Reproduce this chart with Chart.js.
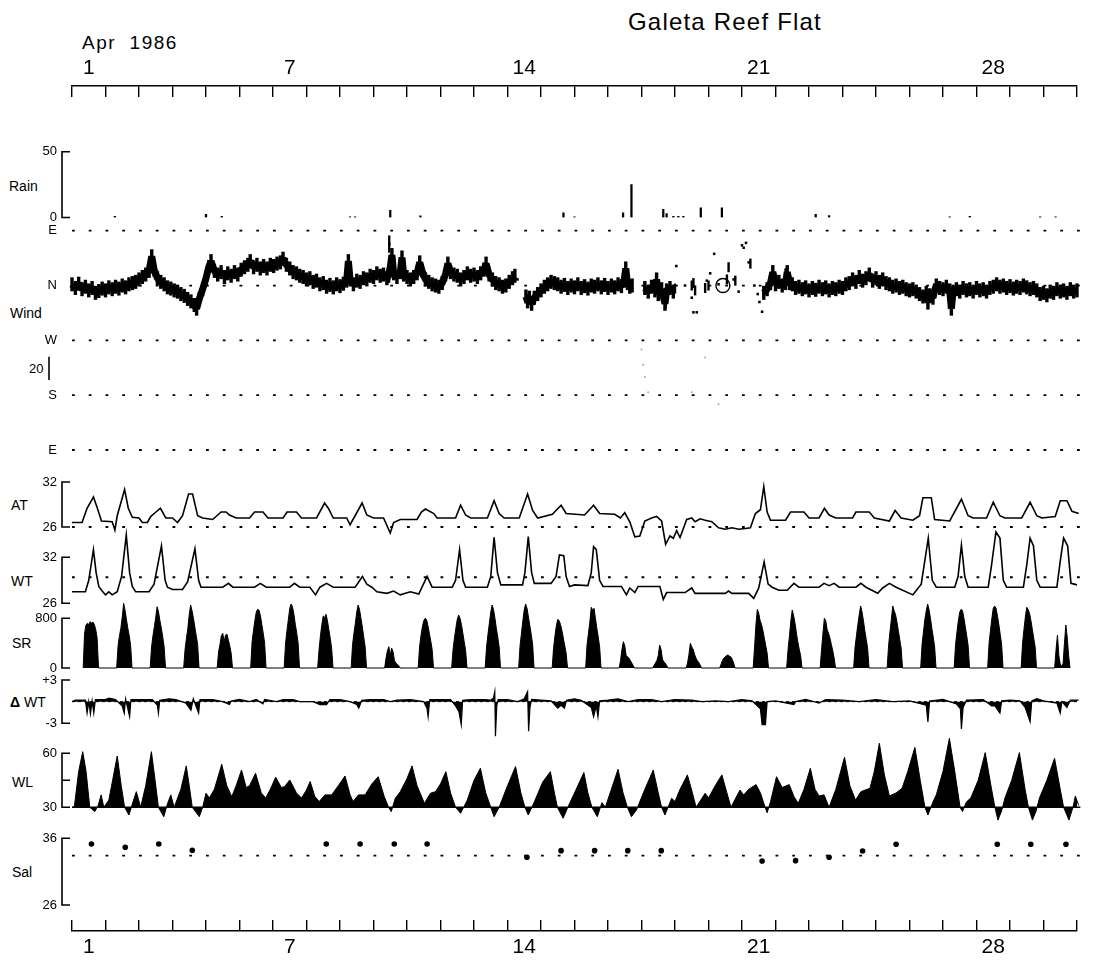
<!DOCTYPE html>
<html>
<head>
<meta charset="utf-8">
<title>Galeta Reef Flat</title>
<script src="https://cdn.jsdelivr.net/npm/chart.js@4.4.1/dist/chart.umd.min.js"></script>
<style>
  body { margin: 0; background: #fff; }
  #page { position: relative; width: 1106px; height: 960px; overflow: hidden;
          font-family: "Liberation Sans", Arial, sans-serif; color: #000; }
  canvas { position: absolute; left: 0; }
  .lbl { position: absolute; font-size: 14px; line-height: 1; transform: translateY(-50%); white-space: nowrap; }
</style>
</head>
<body>
<div id="page">
  <div class="lbl" style="left:628px; top:22px; font-size:24px; letter-spacing:1.2px">Galeta Reef Flat</div>
  <div class="lbl" style="left:82px; top:42px; font-size:19px; letter-spacing:1.5px">Apr&nbsp; 1986</div>
  <div class="lbl" style="left:9px; top:186px">Rain</div>
  <div class="lbl" style="left:10px; top:313px">Wind</div>
  <div class="lbl" style="left:29px; top:368px; font-size:13px">20</div>
  <div class="lbl" style="left:11px; top:505px">AT</div>
  <div class="lbl" style="left:11px; top:581px">WT</div>
  <div class="lbl" style="left:12px; top:643px">SR</div>
  <div class="lbl" style="left:10px; top:702px"><b>&Delta;</b> WT</div>
  <div class="lbl" style="left:12px; top:782px">WL</div>
  <div class="lbl" style="left:12px; top:872px">Sal</div>
</div>
<script>
const FONT = "'Liberation Sans', Arial, sans-serif";
const W = 1106, X0 = 72, X1 = 1077;   // Apr 1 00:00 .. May 1 00:00
const HALF_DAY = (X1 - X0) / 60;
const PAD = 24;
const BRACKET_X = 62;

// ---------- data ----------
const dayTicks = [1, 2, 3, 4, 5, 6, 7, 8, 9, 10, 11, 12, 13, 14, 15, 16, 17, 18, 19, 20,
                  21, 22, 23, 24, 25, 26, 27, 28, 29, 30, 31];
const dayLabels = [1, 7, 14, 21, 28];

// rain, mm  [day, amount]
const rain = [[2.28, 0.8], [5.0, 2.5], [5.47, 0.8], [9.3, 0.5], [9.45, 0.5], [10.5, 5.5],
  [11.4, 1.2], [15.67, 3.5], [16.0, 0.6], [17.45, 3.5], [17.7, 25], [18.65, 6.2], [18.75, 3],
  [18.95, 0.8], [19.1, 0.8], [19.25, 0.8], [19.77, 7.3], [20.4, 7.3], [23.2, 2.5], [23.6, 1.5],
  [27.2, 0.5], [27.8, 0.8], [29.9, 0.5], [30.36, 0.5]];

// wind direction, degrees from N (E = +90, W = -90, S = -180)
const windLevels = [90, 0, -90, -180, -270];
const windNames = ['E', 'N', 'W', 'S', 'E'];
const wind = [[1.0, 2], [1.1, -4], [1.2, 3], [1.3, -6], [1.4, -2], [1.5, -8], [1.6, -4], [1.7, -12],
  [1.8, -9], [1.9, -5], [2.0, -8], [2.1, -3], [2.2, -6], [2.3, -2], [2.4, -5], [2.5, 0], [2.6, -3],
  [2.7, 2], [2.8, 4], [2.9, 6], [3.0, 10], [3.1, 14], [3.2, 18], [3.3, 24], [3.38, 48], [3.45, 26],
  [3.55, 12], [3.65, 6], [3.75, 2], [3.85, -3], [3.95, -5], [4.05, -8], [4.15, -10], [4.25, -14],
  [4.35, -17], [4.45, -22], [4.55, -26], [4.65, -32], [4.72, -38], [4.8, -22], [4.9, -6], [5.0, 12],
  [5.08, 30], [5.15, 40], [5.25, 24], [5.35, 18], [5.45, 22], [5.55, 14], [5.65, 20], [5.75, 16],
  [5.85, 22], [5.95, 18], [6.05, 26], [6.15, 30], [6.25, 34], [6.32, 40], [6.42, 30], [6.52, 34],
  [6.62, 28], [6.72, 32], [6.82, 28], [6.92, 34], [7.02, 32], [7.12, 36], [7.22, 38], [7.3, 44],
  [7.4, 34], [7.5, 28], [7.6, 22], [7.7, 20], [7.8, 16], [7.9, 14], [8.0, 10], [8.1, 12], [8.2, 6],
  [8.3, 8], [8.4, 2], [8.5, 4], [8.6, -2], [8.7, 1], [8.8, -3], [8.9, 2], [9.0, -1], [9.1, 3],
  [9.2, 8], [9.25, 40], [9.3, 10], [9.4, 2], [9.5, 8], [9.6, 6], [9.7, 12], [9.8, 10], [9.9, 16],
  [10.0, 14], [10.1, 20], [10.2, 16], [10.3, 18], [10.4, 12], [10.45, 16], [10.5, 30], [10.55, 50],
  [10.6, 20], [10.7, 14], [10.8, 22], [10.85, 46], [10.9, 18], [11.0, 14], [11.1, 10], [11.2, 14],
  [11.3, 20], [11.38, 38], [11.45, 24], [11.55, 10], [11.65, 6], [11.75, 2], [11.85, 0], [11.95, -2],
  [12.05, 4], [12.15, 18], [12.22, 36], [12.3, 22], [12.4, 18], [12.5, 16], [12.6, 10], [12.7, 14],
  [12.8, 20], [12.9, 16], [13.0, 18], [13.1, 14], [13.2, 20], [13.3, 26], [13.36, 36], [13.45, 18],
  [13.55, 10], [13.65, 4], [13.75, 2], [13.85, -2], [13.95, 0], [14.05, 6], [14.15, 12], [14.22, 16],
  [14.25, null], [14.55, -18], [14.6, -26], [14.65, -20], [14.72, -30], [14.8, -20], [14.9, -14],
  [15.0, -8], [15.1, -2], [15.2, 2], [15.3, 6], [15.4, 4], [15.5, 2], [15.6, -2], [15.7, 1],
  [15.8, -4], [15.9, 0], [16.0, -3], [16.1, 2], [16.2, -4], [16.3, -1], [16.4, -5], [16.5, 0],
  [16.6, -2], [16.7, 2], [16.8, -3], [16.9, 1], [17.0, -4], [17.1, 0], [17.2, -3], [17.3, 2],
  [17.4, -1], [17.48, 8], [17.53, 28], [17.58, 4], [17.65, -2], [17.72, 0], [17.78, null],
  [18.1, -4], [18.2, -10], [18.3, -2], [18.4, -8], [18.45, 10], [18.5, -14], [18.6, -6],
  [18.7, -30], [18.75, -8], [18.85, -4], [18.95, -10], [19.0, null],
  [21.65, -12], [21.75, -6], [21.85, 4], [21.92, 22], [22.0, 2], [22.1, 6], [22.2, 0], [22.3, 4],
  [22.35, 22], [22.42, 4], [22.5, 2], [22.6, -4], [22.7, -2], [22.8, -6], [22.9, -3], [23.0, -8],
  [23.1, -4], [23.2, -7], [23.3, -2], [23.4, -6], [23.5, -3], [23.6, -8], [23.7, -4], [23.8, -6],
  [23.9, -2], [24.0, -4], [24.1, 2], [24.2, 4], [24.3, 10], [24.4, 6], [24.5, 14], [24.6, 8],
  [24.7, 12], [24.8, 18], [24.9, 8], [25.0, 12], [25.1, 6], [25.2, 10], [25.3, 4], [25.4, 2],
  [25.5, -2], [25.6, 0], [25.7, -4], [25.8, -2], [25.9, -6], [26.0, -8], [26.1, -6], [26.2, -10],
  [26.3, -14], [26.4, -18], [26.5, -12], [26.55, -28], [26.6, -16], [26.7, -20], [26.75, -8],
  [26.8, 0], [26.9, -4], [27.0, -6], [27.1, -2], [27.2, -8], [27.25, -38], [27.3, -10], [27.4, -6],
  [27.5, -10], [27.6, -4], [27.7, -8], [27.8, -6], [27.9, -10], [28.0, -4], [28.1, -8], [28.2, -6],
  [28.3, -10], [28.4, -4], [28.5, -2], [28.6, 2], [28.7, -2], [28.8, 0], [28.9, -4], [29.0, -1],
  [29.1, -5], [29.2, -2], [29.3, -4], [29.4, 0], [29.5, -3], [29.6, -6], [29.7, -4], [29.8, -8],
  [29.9, -14], [30.0, -12], [30.1, -16], [30.2, -10], [30.3, -12], [30.4, -6], [30.5, -10],
  [30.6, -8], [30.7, -12], [30.8, -6], [30.9, -10], [31.0, -8], [31.07, -6]];
const windDots = [[19.04, 32], [19.3, 0], [19.5, -20], [19.55, -44], [19.65, -44], [19.95, 8],
  [20.05, 20], [20.17, 52], [20.3, 2], [20.75, 10], [20.9, -10], [21.0, 66], [21.05, 62],
  [21.12, 70], [21.2, 38], [21.37, 0], [21.47, -14], [21.52, -27], [21.6, -43], [14.3, 10]];
const windSticks = [[10.47, 62], [10.47, 74], [18.1, -4], [18.3, 0], [18.72, -30], [19.0, -5],
  [19.5, 0], [19.55, 4], [19.6, -8], [19.9, -4], [20.0, 0], [20.55, 10], [20.6, 30], [20.8, 8],
  [21.25, 36], [22.3, 20]];
const windFaint = [[18.0, -105], [18.05, -130], [18.1, -150], [18.2, -175], [19.5, -175],
  [20.3, -195], [19.9, -118]];
const windCalm = [[20.43, 0]];

// air temperature, deg C
const airTemp = [[1.0, 26.6], [1.3, 26.6], [1.45, 28.5], [1.64, 30.0], [1.75, 28.6], [1.88, 26.8],
  [2.2, 26.7], [2.28, 25.6], [2.35, 27.5], [2.57, 31.0], [2.68, 28.5], [2.8, 27.3], [3.0, 27.2],
  [3.1, 26.6], [3.25, 26.6], [3.35, 27.4], [3.64, 28.5], [3.8, 27.2], [4.0, 27.2], [4.15, 26.6],
  [4.3, 27.5], [4.48, 30.4], [4.6, 30.4], [4.75, 27.5], [4.9, 27.2], [5.2, 27.0], [5.3, 27.4],
  [5.45, 28.0], [5.6, 28.0], [5.7, 27.6], [5.9, 27.2], [6.3, 27.2], [6.45, 28.0], [6.7, 28.0],
  [6.85, 27.2], [7.3, 27.2], [7.42, 28.0], [7.7, 28.0], [7.85, 27.2], [8.3, 27.2], [8.54, 29.2],
  [8.65, 28.5], [8.8, 27.2], [9.2, 27.2], [9.3, 26.3], [9.45, 27.5], [9.66, 29.2], [9.8, 27.6],
  [10.0, 27.2], [10.3, 27.2], [10.5, 25.2], [10.6, 26.6], [10.8, 27.0], [11.3, 27.0], [11.43, 28.0],
  [11.55, 28.4], [11.8, 27.8], [11.9, 27.2], [12.45, 27.2], [12.6, 28.9], [12.75, 27.6], [12.9, 27.2],
  [13.4, 27.2], [13.6, 29.5], [13.75, 27.8], [13.9, 27.2], [14.35, 27.2], [14.6, 30.4], [14.75, 28.2],
  [14.9, 27.2], [15.34, 27.7], [15.6, 28.9], [15.75, 27.8], [16.3, 27.6], [16.57, 28.9], [16.75, 27.8],
  [17.2, 27.7], [17.37, 27.2], [17.5, 27.9], [17.65, 26.7], [17.8, 24.7], [17.95, 24.8], [18.1, 26.8],
  [18.3, 27.2], [18.45, 27.4], [18.6, 26.8], [18.72, 23.7], [18.85, 24.8], [18.95, 24.5], [19.05, 25.5],
  [19.15, 24.6], [19.35, 27.0], [19.5, 27.2], [19.6, 26.7], [19.75, 27.1], [19.9, 26.9], [20.1, 26.7],
  [20.3, 25.9], [20.5, 25.7], [20.7, 25.9], [20.9, 25.7], [21.1, 25.8], [21.25, 25.9], [21.4, 27.8],
  [21.55, 28.3], [21.65, 31.4], [21.75, 28.0], [21.85, 26.9], [22.3, 26.9], [22.45, 28.0], [22.85, 28.0],
  [23.0, 27.2], [23.3, 27.2], [23.46, 28.5], [23.6, 27.6], [23.8, 27.2], [24.3, 27.2], [24.4, 28.0],
  [24.8, 28.0], [24.95, 27.2], [25.4, 26.8], [25.57, 28.2], [25.75, 27.2], [26.1, 26.9], [26.3, 27.5],
  [26.4, 29.9], [26.65, 29.9], [26.75, 27.0], [27.2, 26.8], [27.55, 29.7], [27.75, 27.5], [27.9, 27.2],
  [28.3, 27.2], [28.5, 29.3], [28.7, 27.5], [28.85, 27.2], [29.35, 27.2], [29.6, 29.3], [29.8, 27.5],
  [29.95, 27.2], [30.35, 27.4], [30.5, 29.5], [30.7, 29.5], [30.85, 28.1], [31.05, 27.8]];

// water temperature, deg C
const waterTemp = [[1.0, 27.5], [1.4, 27.5], [1.5, 29.0], [1.64, 33.0], [1.72, 30.0], [1.8, 28.2],
  [1.9, 27.6], [2.0, 27.1], [2.1, 27.5], [2.2, 27.1], [2.35, 27.5], [2.48, 29.5], [2.62, 34.9],
  [2.72, 30.0], [2.8, 28.2], [2.9, 27.5], [3.3, 27.5], [3.45, 28.5], [3.67, 33.5], [3.78, 29.0],
  [3.85, 28.1], [4.0, 27.8], [4.3, 27.8], [4.45, 28.8], [4.67, 33.1], [4.78, 29.0], [4.85, 28.1],
  [5.5, 28.1], [5.67, 28.6], [5.8, 28.1], [6.45, 28.1], [6.62, 28.6], [6.8, 28.1], [7.5, 28.1],
  [7.64, 28.6], [7.8, 28.1], [8.1, 28.1], [8.27, 27.1], [8.4, 28.1], [8.6, 28.6], [8.8, 28.1],
  [9.45, 28.1], [9.67, 29.5], [9.8, 28.5], [9.95, 28.1], [10.1, 27.5], [10.4, 27.3], [10.6, 27.6],
  [10.8, 27.1], [11.1, 27.5], [11.35, 27.2], [11.6, 29.5], [11.75, 28.1], [12.35, 28.1], [12.45, 29.0],
  [12.57, 33.0], [12.67, 29.0], [12.75, 28.1], [13.4, 28.1], [13.5, 29.5], [13.6, 34.6], [13.7, 30.0],
  [13.8, 28.4], [14.45, 28.4], [14.52, 30.0], [14.62, 34.7], [14.72, 30.0], [14.8, 28.6], [15.3, 28.6],
  [15.45, 29.5], [15.55, 32.3], [15.68, 32.2], [15.75, 29.5], [15.85, 28.2], [16.0, 28.4], [16.4, 28.3],
  [16.5, 30.0], [16.57, 33.4], [16.65, 33.0], [16.75, 29.0], [16.85, 28.2], [17.4, 28.2], [17.55, 27.1],
  [17.65, 28.0], [17.8, 27.4], [17.9, 28.2], [18.55, 28.2], [18.65, 26.5], [18.75, 27.4], [19.3, 27.4],
  [19.5, 28.0], [19.6, 27.3], [20.5, 27.3], [20.6, 27.6], [20.7, 27.3], [21.2, 27.3], [21.35, 26.65],
  [21.5, 28.0], [21.66, 31.4], [21.78, 28.5], [21.9, 28.1], [22.1, 27.7], [22.35, 27.7], [22.55, 28.6],
  [22.7, 28.1], [23.3, 28.1], [23.45, 28.6], [23.6, 28.3], [23.75, 28.6], [23.9, 28.1], [24.4, 28.1],
  [24.55, 28.6], [24.7, 28.1], [25.05, 27.3], [25.2, 28.0], [25.4, 28.6], [25.6, 28.1], [26.1, 27.1],
  [26.35, 28.5], [26.56, 34.5], [26.68, 29.0], [26.8, 28.1], [27.35, 28.1], [27.45, 29.5], [27.55, 33.6],
  [27.65, 29.5], [27.75, 28.1], [28.35, 28.1], [28.45, 31.0], [28.58, 35.3], [28.7, 34.5], [28.8, 29.0],
  [28.9, 28.1], [29.4, 28.1], [29.5, 31.0], [29.6, 34.5], [29.7, 33.5], [29.8, 29.0], [29.9, 28.1],
  [30.4, 28.1], [30.5, 31.5], [30.6, 34.5], [30.72, 33.5], [30.82, 28.6], [31.0, 28.4], [31.05, 28.0]];

// solar radiation, W m-2, one row per day at these hours
const srHours = [8, 9, 10, 11, 12, 13, 14, 15, 16, 17, 18, 19];
const srByDay = [
  [0, 560, 690, 720, 700, 746, 720, 740, 700, 620, 480, 0],
  [0, 360, 520, 640, 820, 1041, 930, 780, 640, 520, 360, 0],
  [0, 340, 520, 660, 820, 987, 900, 760, 640, 500, 340, 0],
  [0, 300, 480, 640, 860, 1014, 920, 800, 660, 520, 380, 0],
  [0, 260, 380, 520, 558, 420, 530, 545, 450, 360, 240, 0],
  [0, 420, 600, 760, 900, 944, 930, 840, 700, 560, 400, 0],
  [0, 400, 600, 780, 960, 1030, 980, 860, 700, 560, 400, 0],
  [0, 300, 520, 700, 840, 800, 864, 760, 620, 480, 320, 0],
  [0, 380, 560, 720, 900, 1014, 940, 800, 660, 500, 340, 0],
  [0, 160, 280, 343, 200, 320, 260, 120, 80, 60, 40, 0],
  [0, 340, 520, 660, 760, 800, 780, 680, 560, 440, 300, 0],
  [0, 300, 480, 640, 780, 853, 800, 700, 560, 420, 280, 0],
  [0, 340, 540, 720, 900, 1014, 940, 800, 640, 500, 340, 0],
  [0, 360, 560, 760, 940, 1030, 960, 820, 680, 540, 380, 0],
  [0, 320, 520, 680, 784, 760, 700, 600, 480, 360, 240, 0],
  [0, 380, 560, 740, 977, 930, 960, 800, 640, 500, 340, 0],
  [0, 120, 300, 424, 360, 200, 180, 160, 120, 80, 40, 0],
  [0, 40, 80, 120, 200, 370, 300, 140, 100, 80, 40, 0],
  [0, 80, 220, 397, 340, 300, 220, 160, 120, 90, 50, 0],
  [0, 60, 120, 160, 180, 200, 209, 190, 180, 140, 80, 0],
  [0, 340, 700, 944, 880, 760, 700, 600, 480, 360, 240, 0],
  [0, 300, 520, 760, 934, 840, 720, 560, 420, 300, 200, 0],
  [0, 300, 560, 800, 760, 620, 560, 480, 380, 280, 160, 0],
  [0, 340, 520, 700, 860, 998, 900, 760, 600, 460, 320, 0],
  [0, 360, 580, 780, 998, 920, 860, 740, 600, 460, 320, 0],
  [0, 380, 580, 780, 920, 1030, 940, 800, 640, 500, 340, 0],
  [0, 380, 580, 760, 900, 944, 920, 800, 660, 520, 360, 0],
  [0, 400, 600, 800, 960, 998, 960, 840, 700, 540, 380, 0],
  [0, 400, 620, 820, 977, 940, 880, 760, 620, 480, 340, 0],
  [0, 300, 531, 200, 60, 40, 60, 400, 692, 500, 200, 0]];

// change of water temperature, deg C per hour
const dWT = [[1.0, 0], [1.1, 0.2], [1.4, 0.2], [1.45, -1.6], [1.5, 0], [1.55, -1.7], [1.6, 0.1],
  [1.65, -1.6], [1.7, 0.3], [2.0, 0.3], [2.1, 0.5], [2.3, 0.3], [2.5, -0.6], [2.56, -1.6], [2.6, 0.4],
  [2.72, -2.1], [2.76, 0.3], [3.2, 0.3], [3.4, 0.3], [3.55, -0.5], [3.58, -1.6], [3.62, 0.2], [3.9, 0.4],
  [4.1, 0.3], [4.4, -0.2], [4.55, -1.2], [4.62, 0.4], [4.78, -1.6], [4.82, 0.3], [5.2, 0.3], [5.5, 0],
  [5.7, -0.4], [5.75, 0.1], [6.0, 0.3], [6.3, 0], [6.5, 0.3], [6.7, -0.3], [6.75, 0.3], [7.1, 0],
  [7.3, 0.3], [7.6, 0.3], [7.8, 0], [8.2, 0], [8.4, -0.4], [8.6, -0.4], [8.7, 0.3], [9.0, 0.3],
  [9.3, 0], [9.5, -0.4], [9.56, -0.9], [9.65, 0.2], [9.9, 0.3], [10.3, 0.3], [10.5, 0], [10.7, 0.2],
  [11.1, 0.3], [11.5, 0], [11.6, -1.0], [11.63, -2.1], [11.68, 0.3], [12.0, 0.3], [12.3, 0.3],
  [12.45, -0.6], [12.55, -1.4], [12.62, -3.2], [12.66, 0.2], [12.9, 0.3], [13.3, 0.3], [13.5, 0.2],
  [13.58, 0.5], [13.62, 1.4], [13.64, -4.8], [13.68, -0.6], [13.72, 0.3], [14.0, 0.3], [14.3, 0],
  [14.5, 0.4], [14.6, 1.4], [14.63, -4.1], [14.67, -0.8], [14.72, 0.3], [15.0, 0.2], [15.3, 0.1],
  [15.5, -0.9], [15.6, -0.5], [15.7, -0.9], [15.76, 0.2], [16.0, 0.4], [16.2, 0.2], [16.5, -0.8],
  [16.57, -2.1], [16.65, -0.6], [16.7, -2.1], [16.75, 0.1], [17.0, 0.2], [17.3, 0.4], [17.6, 0],
  [17.9, 0.3], [18.3, 0.3], [18.6, 0], [19.0, 0.3], [19.5, 0.2], [19.8, 0], [20.2, 0.1], [20.6, 0],
  [21.0, 0.3], [21.3, 0.1], [21.55, -1.0], [21.6, -3.2], [21.7, -3.2], [21.75, 0], [22.0, 0.1],
  [22.55, -0.4], [22.6, 0], [22.9, 0.3], [23.3, -0.2], [23.5, 0.3], [24.0, 0.2], [24.5, 0],
  [25.0, 0.3], [25.5, 0], [26.0, 0.1], [26.5, -0.5], [26.55, -2.8], [26.6, 0.1], [27.0, 0.3],
  [27.4, -0.3], [27.52, -1.0], [27.55, -3.8], [27.6, -0.8], [27.7, 0.2], [28.2, 0.3], [28.45, -0.6],
  [28.55, -0.6], [28.7, -1.6], [28.75, 0.1], [29.0, 0.2], [29.3, 0.1], [29.45, -0.8], [29.6, -2.8],
  [29.65, 0.1], [29.8, 0.4], [30.0, 0.1], [30.4, -0.2], [30.5, -1.6], [30.55, 0], [30.7, -0.8],
  [30.8, 0.2], [31.05, 0.2]];

// water level, cm
const waterLevel = [[1.0, 30], [1.07, 30.4], [1.2, 50], [1.32, 60.9], [1.42, 50], [1.53, 30],
  [1.68, 27.6], [1.78, 31], [1.87, 36.9], [1.95, 30], [2.1, 34], [2.35, 58.5], [2.47, 42], [2.57, 30],
  [2.7, 25.7], [2.82, 33], [2.92, 38.7], [3.05, 30], [3.2, 42], [3.37, 60.9], [3.48, 45], [3.58, 30],
  [3.74, 24.8], [3.85, 32], [3.95, 36.9], [4.05, 30], [4.25, 40], [4.41, 53], [4.5, 42], [4.59, 30],
  [4.8, 24.8], [4.9, 30], [5.0, 37.8], [5.1, 35.2], [5.25, 40], [5.47, 53.9], [5.62, 42], [5.77, 35.9],
  [5.9, 42], [6.06, 50.7], [6.2, 41], [6.3, 42], [6.48, 48.9], [6.65, 38], [6.78, 35.2], [6.92, 40],
  [7.08, 46.7], [7.25, 41], [7.35, 41.5], [7.5, 45.2], [7.7, 38], [7.85, 35.2], [7.98, 39],
  [8.11, 44.3], [8.25, 36], [8.38, 33.2], [8.55, 36.9], [8.75, 36.9], [8.95, 42], [9.15, 47.4],
  [9.3, 37], [9.39, 33.2], [9.55, 36.9], [9.75, 36.9], [9.95, 43], [10.14, 47], [10.32, 36],
  [10.45, 30], [10.53, 27.6], [10.65, 35], [10.8, 38.7], [11.0, 46], [11.15, 53], [11.3, 42],
  [11.52, 32.2], [11.7, 37.8], [11.85, 38.7], [12.0, 43], [12.16, 49.8], [12.3, 38], [12.45, 30],
  [12.6, 26.7], [12.8, 34], [13.0, 45], [13.19, 51.7], [13.35, 38], [13.5, 30], [13.6, 24.8],
  [13.75, 30], [14.0, 42], [14.24, 52.6], [14.4, 38], [14.52, 30], [14.62, 25.7], [14.8, 33],
  [15.05, 44], [15.28, 49.8], [15.4, 38], [15.49, 30], [15.66, 23.9], [15.8, 30], [16.05, 40],
  [16.28, 49.3], [16.4, 38], [16.52, 30], [16.68, 24.8], [16.82, 32.6], [16.92, 30], [17.1, 40],
  [17.3, 51.1], [17.45, 38], [17.58, 30], [17.7, 24.8], [17.85, 28.5], [18.1, 40], [18.35, 50.7],
  [18.5, 38], [18.6, 30], [18.7, 25.7], [18.9, 35.0], [19.0, 33.2], [19.15, 40], [19.37, 48],
  [19.52, 38], [19.63, 30], [19.9, 37.8], [20.0, 35.2], [20.2, 42], [20.4, 48], [20.55, 38],
  [20.67, 30], [20.94, 39.6], [21.05, 36.9], [21.2, 40], [21.42, 42.6], [21.55, 38], [21.69, 30],
  [21.75, 27], [21.85, 33], [22.03, 47], [22.2, 41], [22.41, 42.6], [22.55, 36], [22.68, 32.2],
  [22.85, 40], [23.04, 51.7], [23.18, 40], [23.3, 36.3], [23.45, 36.9], [23.6, 30], [23.8, 40],
  [24.06, 57.8], [24.22, 42], [24.39, 34], [24.55, 38.7], [24.82, 40.6], [24.95, 50], [25.1, 65.6],
  [25.25, 48], [25.4, 36.3], [25.6, 38], [25.78, 40.6], [25.95, 50], [26.16, 63.3], [26.32, 45],
  [26.46, 30], [26.55, 25.7], [26.7, 33], [26.8, 36.9], [27.0, 50], [27.19, 68.3], [27.35, 50],
  [27.51, 30], [27.58, 27.6], [27.7, 33], [27.83, 35.2], [28.05, 45], [28.26, 60.4], [28.45, 40],
  [28.55, 30], [28.64, 22.9], [28.75, 28], [28.85, 35.2], [29.05, 45], [29.28, 60.4], [29.45, 40],
  [29.55, 30], [29.67, 22.9], [29.78, 28], [29.88, 35.2], [30.1, 45], [30.33, 57.2], [30.5, 40],
  [30.6, 30], [30.76, 22.9], [30.88, 30], [30.95, 36.3], [31.05, 31], [31.14, 30]];

// salinity, ppt (spot samples)
const salinity = [[1.58, 35.15], [2.59, 34.65], [3.59, 35.15], [4.59, 34.2], [8.59, 35.15],
  [9.6, 35.15], [10.62, 35.15], [11.6, 35.15], [14.58, 33.15], [15.6, 34.15], [16.6, 34.15],
  [17.59, 34.15], [18.59, 34.15], [21.6, 32.6], [22.6, 32.65], [23.6, 33.15], [24.6, 34.1],
  [25.6, 35.1], [28.62, 35.1], [29.62, 35.1], [30.67, 35.1]];

// ---------- helpers ----------
const pts = arr => arr.map(([x, y]) => ({ x, y }));
const srPoints = [];
srByDay.forEach((row, i) => row.forEach((v, j) => srPoints.push({ x: i + 1 + srHours[j] / 24, y: v })));

const line = (data, o = {}) => Object.assign({
  type: 'line', data, borderColor: '#000', borderWidth: 1.5, pointRadius: 0,
  tension: 0, clip: false, fill: false
}, o);
const dotted = v => line([{ x: 1, y: v }, { x: 31.1, y: v }], { borderWidth: 1.8, borderDash: [2.8, 13.95] });
const marks = (data, o = {}) => Object.assign({
  type: 'line', data, showLine: false, clip: false, pointRadius: 2, pointStyle: 'circle',
  pointBackgroundColor: '#000', pointBorderColor: '#000', pointBorderWidth: 0
}, o);

const bracket = {
  id: 'bracket',
  afterDatasetsDraw(chart, args, opts) {
    const s = chart.scales.y, ctx = chart.ctx;
    ctx.save();
    ctx.strokeStyle = '#000';
    ctx.lineWidth = 1.6;
    ctx.beginPath();
    if (opts.span) {
      ctx.moveTo(BRACKET_X, s.getPixelForValue(opts.span[0]));
      ctx.lineTo(BRACKET_X, s.getPixelForValue(opts.span[1]));
      opts.marks.forEach(v => {
        const p = s.getPixelForValue(v);
        ctx.moveTo(BRACKET_X - 0.8, p);
        ctx.lineTo(BRACKET_X + 8, p);
      });
    }
    if (opts.bar) {
      ctx.moveTo(49, s.getPixelForValue(opts.bar[0]));
      ctx.lineTo(49, s.getPixelForValue(opts.bar[1]));
    }
    ctx.stroke();
    ctx.restore();
  }
};

const page = document.getElementById('page');
function addCanvas(top, height) {
  const c = document.createElement('canvas');
  c.width = W; c.height = height;
  c.style.top = top + 'px';
  c.style.width = W + 'px';
  c.style.height = height + 'px';
  page.appendChild(c);
  return c.getContext('2d');
}

// ref = [value, pixel, value, pixel] fixes the vertical placement of a panel
function panel(ref, range, datasets, tickVals, tickText, bracketOpts) {
  const [v1, p1, v2, p2] = ref;
  const k = (p2 - p1) / (v2 - v1);
  const pxTop = p1 + (range[1] - v1) * k;
  const pxBot = p1 + (range[0] - v1) * k;
  const cTop = Math.floor(pxTop) - PAD;
  const cH = Math.ceil(pxBot) + PAD - cTop;
  return new Chart(addCanvas(cTop, cH), {
    type: 'line',
    data: { datasets },
    options: {
      responsive: false, animation: false, events: [],
      layout: { padding: { top: pxTop - cTop, bottom: cTop + cH - pxBot, left: 0, right: W - X1 } },
      plugins: { legend: { display: false }, tooltip: { enabled: false }, bracket: bracketOpts || {} },
      scales: {
        x: { type: 'linear', min: 1, max: 31, display: false, offset: false },
        y: {
          type: 'linear', min: range[0], max: range[1], position: 'left',
          afterFit: s => { s.width = X0; },
          afterBuildTicks: s => { s.ticks = tickVals.map(v => ({ value: v })); },
          grid: { display: false, drawTicks: false },
          border: { display: false },
          ticks: {
            autoSkip: false, padding: 15, color: '#000',
            font: { size: 13, family: FONT },
            callback: (v, i) => tickText[i]
          }
        }
      }
    },
    plugins: [bracket]
  });
}

function dayAxis(position, cTop, cH, padTop, padBottom, axisH, labelPad) {
  return new Chart(addCanvas(cTop, cH), {
    type: 'line',
    data: { datasets: [] },
    options: {
      responsive: false, animation: false, events: [],
      layout: { padding: { top: padTop, bottom: padBottom, left: X0, right: W - X1 } },
      plugins: { legend: { display: false }, tooltip: { enabled: false } },
      scales: {
        x: {
          type: 'linear', position, min: 1, max: 31,
          afterFit: s => { s.height = axisH; },
          afterBuildTicks: s => { s.ticks = dayTicks.map(v => ({ value: v })); },
          grid: { display: true, drawOnChartArea: true, drawTicks: false, color: '#000', lineWidth: 1.4 },
          border: { display: true, color: '#000', width: 1.6 },
          ticks: {
            autoSkip: false, maxRotation: 0, padding: labelPad, labelOffset: HALF_DAY,
            color: '#000', font: { size: 21, family: FONT },
            callback: v => dayLabels.includes(v) ? String(v) : ''
          }
        },
        y: { display: false, min: 0, max: 1 }
      }
    }
  });
}

// ---------- charts ----------
dayAxis('top', 0, 110, 56, 13, 30, 5);

panel([50, 151.7, 0, 217.5], [0, 50],
  [{ type: 'bar', data: pts(rain), backgroundColor: '#000', barThickness: 1.6, grouped: false }],
  [0, 50], ['0', '50'], { span: [0, 50], marks: [0, 50] });

const windPts = pts(wind);
panel([90, 230.7, -270, 450], [-275, 95],
  windLevels.map(dotted).concat([
    line(windPts, { borderWidth: 7, borderJoinStyle: 'bevel', spanGaps: false }),
    marks(windPts.filter(p => p.y !== null), { pointStyle: 'line', rotation: 90, pointRadius: 7, pointBorderWidth: 3.4 }),
    marks(pts(windDots), { pointStyle: 'rect', pointRadius: 1.8 }),
    marks(pts(windSticks), { pointStyle: 'line', rotation: 90, pointRadius: 5, pointBorderWidth: 2.4 }),
    marks(pts(windFaint), { pointRadius: 1, pointBackgroundColor: '#aaa' }),
    marks(pts(windCalm), { pointRadius: 7, pointBackgroundColor: '#fff', pointBorderWidth: 1.4 })
  ]),
  windLevels.slice().reverse(), windNames.slice().reverse(), { bar: [-117, -155] });

panel([32, 482, 26, 527], [23, 32.5],
  [dotted(26), line(pts(airTemp), { borderWidth: 1.6 })],
  [26, 32], ['26', '32'], { span: [26, 32], marks: [26, 32] });

panel([32, 557.3, 26, 603.3], [25, 36],
  [dotted(29.4), line(pts(waterTemp), { borderWidth: 1.6 })],
  [26, 32], ['26', '32'], { span: [26, 32], marks: [26, 32] });

panel([800, 618.3, 0, 668], [0, 1100],
  [line(srPoints, { fill: 'origin', backgroundColor: '#000', borderWidth: 1 })],
  [0, 800], ['0', '800'], { span: [0, 800], marks: [0, 800] });

panel([3, 680, -3, 723.3], [-5.5, 3.2],
  [line([{ x: 1, y: 0 }, { x: 31.05, y: 0 }], { borderWidth: 1, borderDash: [3, 3] }),
   line(pts(dWT), { fill: 'origin', backgroundColor: '#000', borderWidth: 1.2 })],
  [-3, 3], ['-3', '+3'], { span: [-3, 3], marks: [-3, 3] });

panel([60, 753.3, 30, 807.3], [20, 70],
  [line(pts(waterLevel), { fill: { value: 30 }, backgroundColor: '#000', borderWidth: 1 }),
   line([{ x: 1, y: 30 }, { x: 31.1, y: 30 }], { borderWidth: 1.4 })],
  [30, 60], ['30', '60'], { span: [30, 60], marks: [30, 45, 60] });

panel([36, 838.3, 26, 905], [26, 36],
  [dotted(33.4), marks(pts(salinity), { pointRadius: 2.8 })],
  [26, 36], ['26', '36'], { span: [26, 36], marks: [26, 36] });

dayAxis('bottom', 900, 60, 20, 0, 29, 4);
</script>
</body>
</html>
